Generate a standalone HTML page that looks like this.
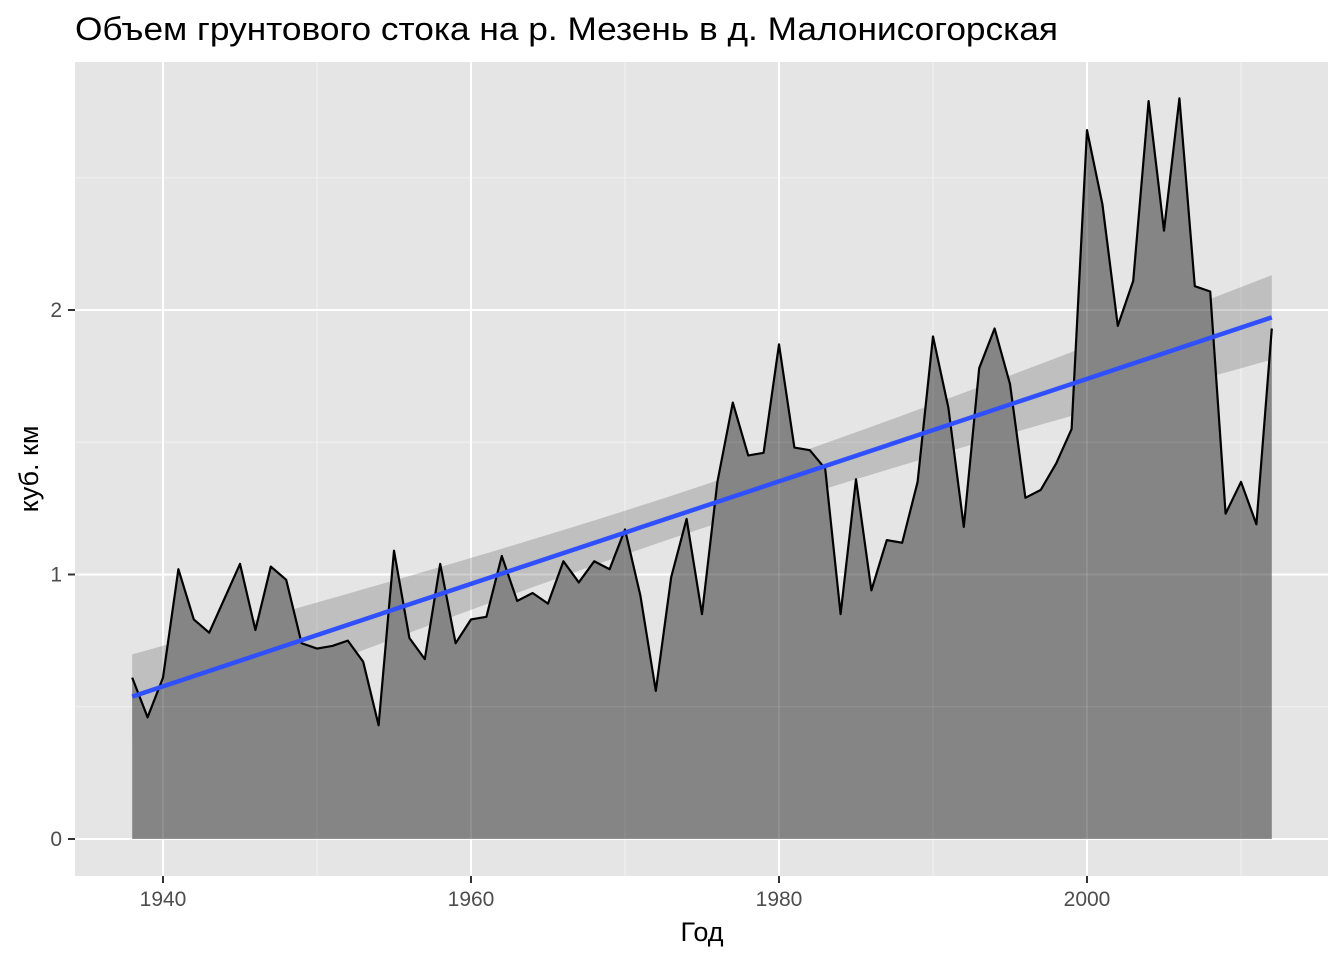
<!DOCTYPE html>
<html><head><meta charset="utf-8"><style>
body{margin:0;background:#fff}
text{font-family:"Liberation Sans",Arial,sans-serif}
</style></head><body>
<svg id="chart" width="1344" height="960" xmlns="http://www.w3.org/2000/svg">
<text x="75" y="40" font-size="32" fill="#000" textLength="983" lengthAdjust="spacingAndGlyphs">Объем грунтового стока на р. Мезень в д. Малонисогорская</text>
<rect x="75" y="62" width="1253" height="814" fill="#e5e5e5"/>
<g id="grid"></g>
<g id="marks"></g>
<g id="grid2"></g>
<g id="marks2"></g>
<g id="axes"></g>
<text x="702" y="941" font-size="27" text-anchor="middle">Год</text>
<text transform="translate(38,469) rotate(-90)" font-size="27" text-anchor="middle">куб. км</text>
</svg>
<script>
const years=[];for(let y=1938;y<=2012;y++)years.push(y);
const values=[0.61,0.46,0.61,1.02,0.83,0.78,0.91,1.04,0.79,1.03,0.98,0.74,0.72,0.73,0.75,0.67,0.43,1.09,0.76,0.68,1.04,0.74,0.83,0.84,1.07,0.90,0.93,0.89,1.05,0.97,1.05,1.02,1.17,0.92,0.56,0.99,1.21,0.85,1.35,1.65,1.45,1.46,1.87,1.48,1.47,1.40,0.85,1.36,0.94,1.13,1.12,1.35,1.90,1.63,1.18,1.78,1.93,1.72,1.29,1.32,1.42,1.55,2.68,2.40,1.94,2.11,2.79,2.30,2.80,2.09,2.07,1.23,1.35,1.19,1.93];
const xTicks=[1940,1960,1980,2000];
const xMinor=[1950,1970,1990,2010];
const yTicks=[0,1,2];
const yMinor=[0.5,1.5,2.5];
const X=v=>163+(v-1940)*15.4;
const Y=v=>839-v*264.5;
const NS="http://www.w3.org/2000/svg";
function mk(tag,attrs,parent){const e=document.createElementNS(NS,tag);for(const k in attrs)e.setAttribute(k,attrs[k]);document.getElementById(parent).appendChild(e);return e;}
function grid(parent,op){
for(const v of yMinor){const e=mk('line',{x1:75,x2:1328,y1:Y(v),y2:Y(v),stroke:'#f2f2f2','stroke-width':1,opacity:op},parent);

}
for(const v of xMinor){const e=mk('line',{x1:X(v),x2:X(v),y1:62,y2:876,stroke:'#f2f2f2','stroke-width':1,opacity:op},parent);

}
for(const v of yTicks){const e=mk('line',{x1:75,x2:1328,y1:Y(v),y2:Y(v),stroke:'#fff','stroke-width':2,opacity:op},parent);

}
for(const v of xTicks){const e=mk('line',{x1:X(v),x2:X(v),y1:62,y2:876,stroke:'#fff','stroke-width':2,opacity:op},parent);

}
}
grid('grid',1);
const n=years.length;const mx=years.reduce((a,b)=>a+b)/n,my=values.reduce((a,b)=>a+b)/n;
let sxx=0,sxy=0;for(let i=0;i<n;i++){sxx+=(years[i]-mx)**2;sxy+=(years[i]-mx)*(values[i]-my);}
const b=sxy/sxx,a=my-b*mx;let sse=0;for(let i=0;i<n;i++)sse+=(values[i]-a-b*years[i])**2;
const s=Math.sqrt(sse/(n-2)),t=1.993;
const up=[],lo=[];for(let i=0;i<n;i++){const x=years[i],f=a+b*x,se=s*Math.sqrt(1/n+(x-mx)**2/sxx);up.push(X(x)+','+Y(f+t*se));lo.unshift(X(x)+','+Y(f-t*se));}
const rib=mk('polygon',{points:up.concat(lo).join(' '),fill:'#999',opacity:0.5},'marks');


let pts=years.map((y,i)=>X(y)+','+Y(values[i]));
const area=mk('polygon',{points:X(years[0])+','+Y(0)+' '+pts.join(' ')+' '+X(years[n-1])+','+Y(0),fill:'#858585'},'marks');


grid('grid2',0.1);
const line=mk('polyline',{points:pts.join(' '),fill:'none',stroke:'#000','stroke-width':2.2,'stroke-linejoin':'round'},'marks2');


const reg=mk('line',{x1:X(1938),y1:Y(a+b*1938),x2:X(2012),y2:Y(a+b*2012),stroke:'#3050ff','stroke-width':4.5},'marks2');


for(const v of xTicks){const tk=mk('line',{x1:X(v),x2:X(v),y1:876,y2:883,stroke:'#333','stroke-width':2},'axes');


const tx=mk('text',{x:X(v),y:906,'font-size':21,fill:'#4d4d4d','text-anchor':'middle'},'axes');tx.textContent=v;

}
for(const v of yTicks){const tk=mk('line',{x1:68,x2:75,y1:Y(v),y2:Y(v),stroke:'#333','stroke-width':2},'axes');


const tx=mk('text',{x:62,y:Y(v)+7,'font-size':21,fill:'#4d4d4d','text-anchor':'end'},'axes');tx.textContent=v;

}
</script>
</body></html>
